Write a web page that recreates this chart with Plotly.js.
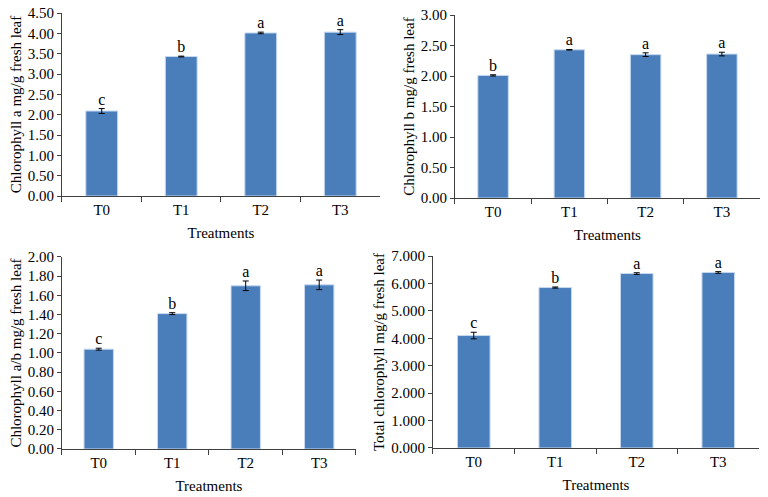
<!DOCTYPE html>
<html>
<head>
<meta charset="utf-8">
<script src="https://cdn.plot.ly/plotly-3.0.1.min.js"></script>
<style>html,body{margin:0;padding:0;background:#fff}#chart{width:768px;height:497px}</style>
</head>
<body>
<div id="chart"></div>
<script>
const categories = ["T0", "T1", "T2", "T3"];

const chlA = [2.09, 3.43, 4.01, 4.03];
const chlAErr = [0.06, 0.01, 0.02, 0.06];
const chlALetters = ["c", "b", "a", "a"];

const chlB = [2.01, 2.43, 2.35, 2.36];
const chlBErr = [0.01, 0.005, 0.03, 0.03];
const chlBLetters = ["b", "a", "a", "a"];

const chlAB = [1.04, 1.41, 1.70, 1.71];
const chlABErr = [0.01, 0.01, 0.05, 0.05];
const chlABLetters = ["c", "b", "a", "a"];

const chlTotal = [4.10, 5.85, 6.36, 6.40];
const chlTotalErr = [0.12, 0.02, 0.03, 0.03];
const chlTotalLetters = ["c", "b", "a", "a"];

const yTitles = [
  "Chlorophyll a mg/g fresh leaf",
  "Chlorophyll b mg/g fresh leaf",
  "Chlorophyll a/b mg/g fresh leaf",
  "Total chlorophyll mg/g fresh leaf"
];
const xTitle = "Treatments";

const FONT = "Liberation Serif";
const FS = 15;
const BAR = "#4a7ebb";
const panels = [
  {v: chlA, e: chlAErr, l: chlALetters, xa: "x", ya: "y"},
  {v: chlB, e: chlBErr, l: chlBLetters, xa: "x2", ya: "y2"},
  {v: chlAB, e: chlABErr, l: chlABLetters, xa: "x3", ya: "y3"},
  {v: chlTotal, e: chlTotalErr, l: chlTotalLetters, xa: "x4", ya: "y4"}
];

const traces = [];
panels.forEach(p => {
  traces.push({
    type: "bar", x: categories, y: p.v, xaxis: p.xa, yaxis: p.ya,
    marker: {color: BAR, line: {color: "#c6d9f1", width: 1}},
    error_y: {type: "data", array: p.e, visible: true, color: "#000", thickness: 1, width: 3},
    hoverinfo: "x+y"
  });
  traces.push({
    type: "scatter", mode: "text", x: categories,
    y: p.v.map((v, i) => v + p.e[i]), text: p.l,
    textposition: "top center", xaxis: p.xa, yaxis: p.ya,
    textfont: {family: FONT, size: FS + 1, color: "#000"}, hoverinfo: "skip"
  });
});

function xax(domain, anchor) {
  return {
    domain: domain, anchor: anchor, type: "category", range: [-0.5, 3.5],
    showline: true, linecolor: "#404040", linewidth: 1,
    ticks: "outside", tickson: "boundaries", ticklen: 5, tickcolor: "#404040",
    showgrid: false, zeroline: false, fixedrange: true,
    tickfont: {family: FONT, size: FS, color: "#000"},
    title: {text: xTitle, font: {family: FONT, size: FS, color: "#000"}, standoff: 10}
  };
}
function yax(domain, anchor, max, dtick, fmt, title) {
  return {
    domain: domain, anchor: anchor, range: [0, max], dtick: dtick, tick0: 0,
    tickformat: fmt, showline: true, linecolor: "#404040", linewidth: 1,
    ticks: "outside", ticklen: 4, tickcolor: "#404040",
    showgrid: false, zeroline: false, fixedrange: true,
    tickfont: {family: FONT, size: FS, color: "#000"},
    title: {text: title, font: {family: FONT, size: FS, color: "#000"}, standoff: 2}
  };
}

const layout = {
  width: 768, height: 497,
  margin: {l: 0, r: 0, t: 0, b: 0},
  paper_bgcolor: "#fff", plot_bgcolor: "#fff",
  showlegend: false, bargap: 0.6,
  font: {family: FONT, color: "#000"},
  xaxis: xax([0.0807, 0.4948], "y"),
  yaxis: yax([0.6056, 0.9738], "x", 4.5, 0.5, ".2f", yTitles[0]),
  xaxis2: xax([0.5924, 0.9896], "y2"),
  yaxis2: yax([0.6016, 0.9698], "x2", 3.0, 0.5, ".2f", yTitles[1]),
  xaxis3: xax([0.0807, 0.4635], "y3"),
  yaxis3: yax([0.0966, 0.4829], "x3", 2.0, 0.2, ".2f", yTitles[2]),
  xaxis4: xax([0.5638, 0.9883], "y4"),
  yaxis4: yax([0.0986, 0.4849], "x4", 7.0, 1, ".3f", yTitles[3])
};

Plotly.newPlot("chart", traces, layout, {displayModeBar: false, staticPlot: true});
</script>
</body>
</html>
